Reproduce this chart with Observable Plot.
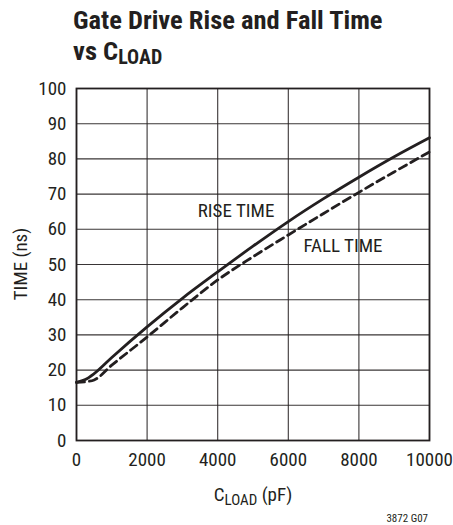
<!DOCTYPE html>
<html>
<head>
<meta charset="utf-8">
<script src="https://cdn.jsdelivr.net/npm/d3@7"></script>
<script src="https://cdn.jsdelivr.net/npm/@observablehq/plot@0.6"></script>
<style>
  html, body { margin: 0; padding: 0; background: #fff; }
  #wrap { position: relative; width: 453px; height: 525px; overflow: hidden; }
  svg text { font-family: "Liberation Sans Narrow", "Roboto Condensed", "DejaVu Sans Condensed", "Liberation Sans", sans-serif; }
</style>
</head>
<body>
<div id="wrap"></div>
<script>
// Data
const cload    = [0, 250, 500, 1000, 2000, 3000, 4000, 5000, 6000, 7000, 8000, 9000, 10000];
const riseTime = [16.5, 17.3, 19, 23.6, 32.3, 40.4, 47.9, 55.2, 62.2, 68.7, 74.8, 80.6, 86];
const fallTime = [16.5, 16.7, 17.2, 21.4, 29.4, 37.7, 45.6, 52.2, 58.4, 64.5, 70.5, 76.3, 82];
const xTicks = [0, 2000, 4000, 6000, 8000, 10000];
const yTicks = [0, 10, 20, 30, 40, 50, 60, 70, 80, 90, 100];
const curveLabels = [
  {text: "RISE TIME", x: 4520, y: 65.2},
  {text: "FALL TIME", x: 7550, y: 55.2}
];

const rise = cload.map((c, i) => ({c, t: riseTime[i]}));
const fall = cload.map((c, i) => ({c, t: fallTime[i]}));

const W = 453, H = 525, top0 = 70;
const ink = "#231f20";
const wrap = document.getElementById("wrap");

// Title SVG
const titleSvg = d3.select(wrap).append("svg")
  .attr("width", W).attr("height", top0)
  .style("position", "absolute").style("left", "0px").style("top", "0px");
titleSvg.append("text").attr("x", 73).attr("y", 29)
  .attr("font-size", 26.5).attr("font-weight", "bold").attr("fill", ink)
  .text("Gate Drive Rise and Fall Time");
const t2 = titleSvg.append("text").attr("x", 73).attr("y", 60)
  .attr("font-size", 26.5).attr("font-weight", "bold").attr("fill", ink);
t2.append("tspan").text("vs C");
t2.append("tspan").attr("font-size", 20).attr("dy", 4).text("LOAD");

const chart = Plot.plot({
  width: W,
  height: H - top0,
  marginLeft: 76,
  marginRight: 24,
  marginTop: 18,
  marginBottom: 85,
  style: {fontSize: "19px", fontFamily: '"Liberation Sans Narrow", "Roboto Condensed", "Liberation Sans", sans-serif', color: ink, background: "transparent"},
  x: {domain: [0, 10000], label: null},
  y: {domain: [0, 100], label: null},
  marks: [
    Plot.gridX(xTicks, {stroke: ink, strokeOpacity: 0.9, strokeWidth: 1.1}),
    Plot.gridY(yTicks, {stroke: ink, strokeOpacity: 0.9, strokeWidth: 1.1}),
    Plot.frame({stroke: ink, strokeWidth: 1.8}),
    Plot.axisX({ticks: xTicks, tickSize: 0, tickPadding: 12, tickFormat: d => String(d), fill: ink, fontSize: 19}),
    Plot.axisY({ticks: yTicks, tickSize: 0, tickPadding: 10, fill: ink, fontSize: 19}),
    Plot.line(fall, {x: "c", y: "t", curve: "monotone-x", stroke: ink, strokeWidth: 2.8, strokeDasharray: "8,5"}),
    Plot.line(rise, {x: "c", y: "t", curve: "monotone-x", stroke: ink, strokeWidth: 2.8}),
    Plot.text(curveLabels, {x: "x", y: "y", text: "text", fontSize: 19, fill: ink})
  ]
});
d3.select(chart).style("position", "absolute").style("left", "0px").style("top", top0 + "px");
wrap.appendChild(chart);

const svg = d3.select(chart);
// x axis label with subscript
const xl = svg.append("text").attr("x", 253).attr("y", 431)
  .attr("text-anchor", "middle").attr("font-size", 19).attr("fill", ink);
xl.append("tspan").text("C");
xl.append("tspan").attr("font-size", 15).attr("dy", 4).text("LOAD");
xl.append("tspan").attr("dy", -4).text(" (pF)");
// y axis label
svg.append("text").attr("transform", "translate(27," + (264 - top0) + ") rotate(-90)")
  .attr("text-anchor", "middle").attr("font-size", 19).attr("fill", ink)
  .text("TIME (ns)");
// figure id
svg.append("text").attr("x", 428).attr("y", 452).attr("text-anchor", "end")
  .attr("font-size", 11).attr("fill", ink).text("3872 G07");
</script>
</body>
</html>
